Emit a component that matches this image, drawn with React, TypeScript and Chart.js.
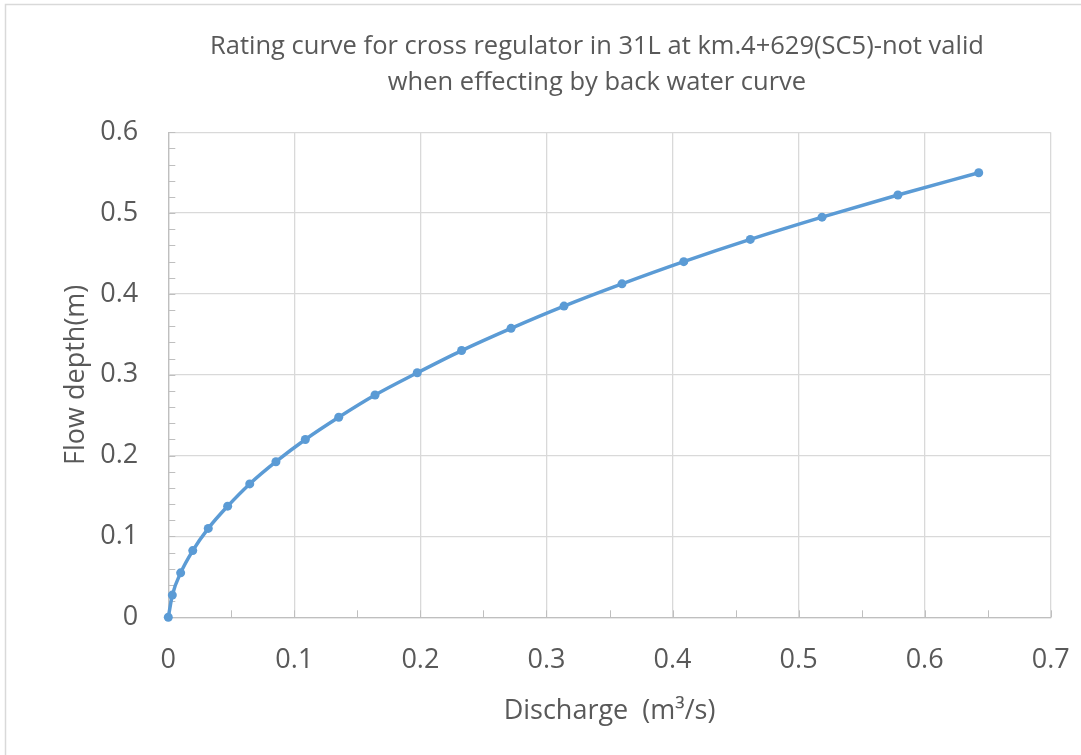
import React, { useEffect, useRef } from "react";
import { Chart, registerables } from "chart.js";

Chart.register(...registerables);

const TITLE_LINES = [
  "Rating curve for cross regulator in 31L at km.4+629(SC5)-not valid",
  "when effecting by back water curve",
];
const X_TITLE = "Discharge  (m\u00B3/s)";
const Y_TITLE = "Flow depth(m)";

const discharge = [
  0, 0.0032, 0.0098, 0.0194, 0.0317, 0.0471, 0.0646, 0.0854, 0.1087, 0.1352,
  0.164, 0.1975, 0.2327, 0.2719, 0.3139, 0.3599, 0.4089, 0.4617, 0.5186,
  0.5788, 0.6429,
];
const depth = [
  0, 0.0275, 0.055, 0.0825, 0.11, 0.1375, 0.165, 0.1925, 0.22, 0.2475, 0.275,
  0.3025, 0.33, 0.3575, 0.385, 0.4125, 0.44, 0.4675, 0.495, 0.5225, 0.55,
];

const X_MIN = 0;
const X_MAX = 0.7;
const X_STEP = 0.1;
const X_MINOR = 0.05;
const Y_MIN = 0;
const Y_MAX = 0.6;
const Y_STEP = 0.1;
const Y_MINOR = 0.02;

const TEXT = "#595959";
const FONT = "'Open Sans', 'Noto Sans', sans-serif";

const fmt = (v: number) => String(parseFloat(Number(v).toFixed(2)));

const framePlugin = {
  id: "frame",
  beforeDraw(chart: any) {
    const { ctx, width, height } = chart;
    ctx.save();
    ctx.fillStyle = "#ffffff";
    ctx.fillRect(0, 0, width, height);
    ctx.strokeStyle = "#D9D9D9";
    ctx.lineWidth = 1.5;
    ctx.strokeRect(5.5, 4.5, width + 20, height + 20);
    ctx.restore();
  },
  afterDraw(chart: any) {
    const { ctx } = chart;
    ctx.save();
    ctx.fillStyle = TEXT;
    ctx.font = `25.5px ${FONT}`;
    ctx.textAlign = "center";
    ctx.textBaseline = "middle";
    ctx.fillText(TITLE_LINES[0], 597, 47);
    ctx.fillText(TITLE_LINES[1], 597, 83);
    ctx.restore();
  },
};

const minorTicksPlugin = {
  id: "minorTicks",
  beforeDatasetsDraw(chart: any) {
    const { ctx, scales } = chart;
    const xs = scales.x;
    const ys = scales.y;
    ctx.save();
    ctx.strokeStyle = "#BFBFBF";
    ctx.lineWidth = 1;
    const nx = Math.round((X_MAX - X_MIN) / X_MINOR);
    for (let i = 0; i <= nx; i++) {
      const px = Math.round(xs.getPixelForValue(X_MIN + i * X_MINOR)) + 0.5;
      ctx.beginPath();
      ctx.moveTo(px, ys.bottom);
      ctx.lineTo(px, ys.bottom - 7);
      ctx.stroke();
    }
    const ny = Math.round((Y_MAX - Y_MIN) / Y_MINOR);
    for (let i = 0; i <= ny; i++) {
      const py = Math.round(ys.getPixelForValue(Y_MIN + i * Y_MINOR)) + 0.5;
      ctx.beginPath();
      ctx.moveTo(xs.left, py);
      ctx.lineTo(xs.left + 7, py);
      ctx.stroke();
    }
    ctx.restore();
  },
};

export default function App() {
  const ref = useRef<HTMLCanvasElement | null>(null);

  useEffect(() => {
    document.body.style.margin = "0";
    const canvas = ref.current;
    if (!canvas) return;
    const points = discharge.map((x, i) => ({ x, y: depth[i] }));
    const chart = new Chart(canvas, {
      type: "scatter",
      data: {
        datasets: [
          {
            label: "Rating curve",
            data: points,
            showLine: true,
            borderColor: "#5B9BD5",
            backgroundColor: "#5B9BD5",
            borderWidth: 3.5,
            pointRadius: 4.5,
            pointHoverRadius: 4.5,
            pointBorderWidth: 0,
            cubicInterpolationMode: "monotone",
            clip: false,
          } as any,
        ],
      },
      options: {
        responsive: false,
        animation: false,
        layout: { padding: { left: 0, right: 30.3, top: 132.3, bottom: 0 } },
        plugins: {
          legend: { display: false },
          tooltip: { enabled: false },
          title: { display: false },
        },
        scales: {
          x: {
            type: "linear",
            min: X_MIN,
            max: X_MAX,
            afterFit(scale: any) {
              scale.height = 137.7;
            },
            ticks: {
              stepSize: X_STEP,
              color: TEXT,
              font: { family: FONT, size: 27 },
              padding: 4,
              callback: (v: any) => fmt(v),
            },
            grid: {
              color: "#D9D9D9",
              lineWidth: 1.3,
              drawTicks: true,
              tickLength: 23,
              tickColor: "rgba(0,0,0,0)",
            },
            border: { color: "#BFBFBF", width: 1.3 },
            title: {
              display: true,
              text: X_TITLE,
              color: TEXT,
              font: { family: FONT, size: 27 },
              padding: { top: 0, bottom: 27 },
            },
          },
          y: {
            type: "linear",
            min: Y_MIN,
            max: Y_MAX,
            afterFit(scale: any) {
              scale.width = 168.3;
            },
            ticks: {
              stepSize: Y_STEP,
              color: TEXT,
              font: { family: FONT, size: 27 },
              padding: 4,
              callback: (v: any) => fmt(v),
            },
            grid: {
              color: "#D9D9D9",
              lineWidth: 1.3,
              drawTicks: true,
              tickLength: 26,
              tickColor: "rgba(0,0,0,0)",
            },
            border: { color: "#BFBFBF", width: 1.3 },
            title: {
              display: true,
              text: Y_TITLE,
              color: TEXT,
              font: { family: FONT, size: 27 },
              padding: { top: 60, bottom: 0 },
            },
          },
        },
      },
      plugins: [framePlugin, minorTicksPlugin],
    });
    return () => chart.destroy();
  }, []);

  return (
    <div style={{ width: 1081, height: 755, overflow: "hidden" }}>
      <canvas ref={ref} width={1081} height={755} style={{ display: "block" }} />
    </div>
  );
}
